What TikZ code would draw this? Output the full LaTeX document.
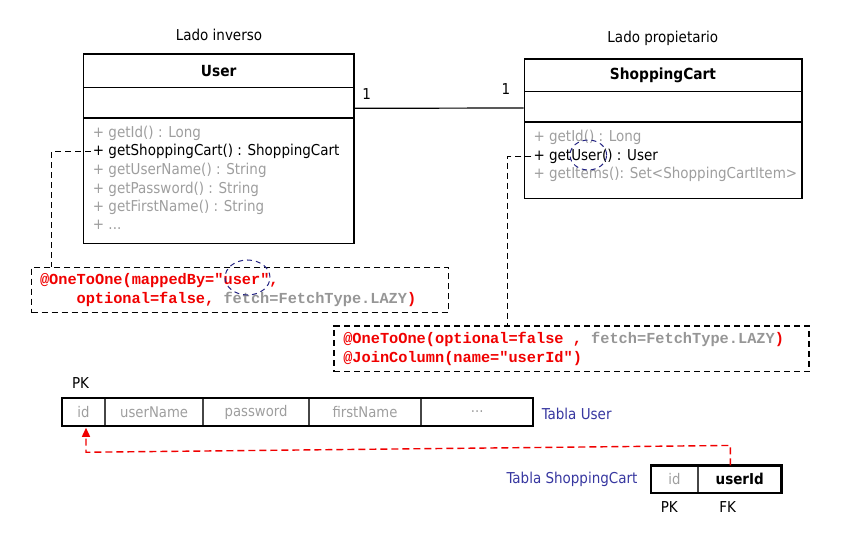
\documentclass[tikz,border=0pt]{standalone}
\usepackage{fontspec}
\setmainfont{DejaVu Sans Condensed}
\setmonofont{Liberation Mono}
\usetikzlibrary{positioning, calc, arrows.meta}

\definecolor{methgray}{RGB}{158,158,158}
\definecolor{cellgray}{RGB}{70,70,70}
\definecolor{notered}{RGB}{240,0,0}
\definecolor{notegray}{RGB}{150,150,150}
\definecolor{tablablue}{RGB}{55,55,160}
\definecolor{ovalblue}{RGB}{35,35,130}

\newcommand{\umlfont}{\fontsize{15}{18}\selectfont}
\newcommand{\notefont}{\ttfamily\bfseries\fontsize{15.3}{18.6}\selectfont}
\newcommand{\tsp}{\hspace{0.6em}}

\begin{document}
\begin{tikzpicture}[x=1pt, y=-1pt,
  umlpart/.style={draw, line width=1.6pt, inner sep=0pt, font=\fontsize{15.3}{18}\selectfont\bfseries},
  meth/.style={anchor=west, inner sep=2pt, font=\umlfont, text=methgray},
  label/.style={inner sep=1pt, font=\umlfont},
  connector/.style={draw, line width=1.3pt, dash pattern=on 6pt off 4pt},
  notebox/.style={draw, line width=1.3pt, dash pattern=on 6pt off 4pt, align=left, font=\notefont, inner ysep=2pt},
  ovalmark/.style={draw=ovalblue, line width=1pt, dash pattern=on 5pt off 4pt},
  cell/.style={draw=cellgray, line width=1.1pt, minimum height=27.4, inner sep=0pt, text=methgray, font=\fontsize{14.7}{17}\selectfont},
  fkline/.style={draw=notered, line width=1.4pt, dash pattern=on 7pt off 4pt}]
\useasboundingbox (0,0) rectangle (847,535);

% Lado inverso: clase User
\node[label] (inverso) at (219,35) {Lado inverso};
\node[umlpart, minimum width=270.7, minimum height=33.4] (userhead) at (218.65,71) {User};
\node[umlpart, minimum width=270.7, minimum height=30.6] (userattr) at (218.65,103) {};
\node[umlpart, minimum width=270.7, minimum height=125] (userops) at (218.65,180.8) {};
\node[meth] (ugetid) at (90.7,133) {+ getId() : Long};
\node[meth, text=black] (ugetcart) at (90.7,151.5) {+ getShoppingCart() : ShoppingCart};
\node[meth] (ugetname) at (90.7,170) {+ getUserName() : String};
\node[meth] (ugetpass) at (90.7,189) {+ getPassword() : String};
\node[meth] (ugetfirst) at (90.7,207.7) {+ getFirstName() : String};
\node[meth] (umore) at (90.7,225) {+ ...};

% Lado propietario: clase ShoppingCart
\node[label] (propietario) at (662.8,38.3) {Lado propietario};
\node[umlpart, minimum width=277.4, minimum height=32.7] (carthead) at (663,75.35) {ShoppingCart};
\node[umlpart, minimum width=277.4, minimum height=30.6] (cartattr) at (663,107) {};
\node[umlpart, minimum width=277.4, minimum height=76] (cartops) at (663,160.3) {};
\node[meth] (cgetid) at (531.3,137.7) {+ getId() : Long};
\node[meth, text=black] (cgetuser) at (531.3,156.5) {+ getUser() : User};
\node[meth] (cgetitems) at (531.3,174.3) {+ getItems(): Set<ShoppingCartItem>};

% asociacion 1 a 1
\draw[line width=1.2pt] ($(userattr.east)+(0,5.3)$) -- ($(cartattr.west)+(0,1)$);
\node[label] (multuser) at (366.7,94) {1};
\node[label] (multcart) at (506,89.3) {1};

% anotaciones
\node[notebox, minimum height=45.4, text width=400, inner xsep=8.3] (note1) at (240,290)
  {\textcolor{notered}{@OneToOne(mappedBy="user",}\\
   \hspace*{36.6pt}\textcolor{notered}{optional=false,}\tsp\textcolor{notegray}{fetch=FetchType.LAZY}\textcolor{notered}{)}};
\node[notebox, minimum height=45.7, text width=456.4, inner xsep=9.3] (note2) at (571.5,348.85)
  {\textcolor{notered}{@OneToOne(optional=false\tsp,}\tsp\textcolor{notegray}{fetch=FetchType.LAZY}\textcolor{notered}{)}\\
   \textcolor{notered}{@JoinColumn(name="userId")}};
\draw[connector] (ugetcart.west) -| ($(note1.north west)+(20.3,0)$);
\draw[connector] (cgetuser.west) -| ($(note2.north west)+(174.3,0)$);
\draw[ovalmark] (247.5,277.5) ellipse (22.5pt and 17.5pt);
\draw[ovalmark] (588.3,155) ellipse (18.3pt and 15pt);

% Tabla User
\node[cell, minimum width=41.6] (uid) at (83.5,412) {id};
\node[cell, minimum width=97.4, right=0pt of uid] (uname) {userName};
\node[cell, minimum width=104.3, right=0pt of uname] (upass) {password};
\node[cell, minimum width=111.3, right=0pt of upass] (ufirst) {firstName};
\node[cell, minimum width=111, right=0pt of ufirst] (udots) {...};
\draw[line width=2.4pt] (uid.north west) rectangle (udots.south east);
\node[label] (upk) at (80.5,383.3) {PK};
\node[label, anchor=west, text=tablablue] (tablauser) at (540.7,414.3) {Tabla User};

% Tabla ShoppingCart
\node[cell, minimum width=45.6, minimum height=26.7] (cid) at (674.5,479.35) {id};
\node[cell, minimum width=82.7, minimum height=26.7, right=0pt of cid, text=black, font=\umlfont\bfseries] (cuserid) {userId};
\draw[line width=2.4pt] (cid.north west) rectangle (cuserid.south east);
\node[label, anchor=east, text=tablablue] (tablacart) at (638.7,479.3) {Tabla ShoppingCart};
\node[label] (cpk) at (669.3,506.7) {PK};
\node[label] (cfk) at (727.7,506.7) {FK};

% clave foranea
\draw[fkline, -{Triangle[length=9pt, width=8pt]}] ($(cuserid.north)+(-9.4,0)$) -- ++(0,-20)
  -- ($(uid.south)+(2.5,26)$) -- ($(uid.south)+(2.5,1.5)$);
\end{tikzpicture}
\end{document}
